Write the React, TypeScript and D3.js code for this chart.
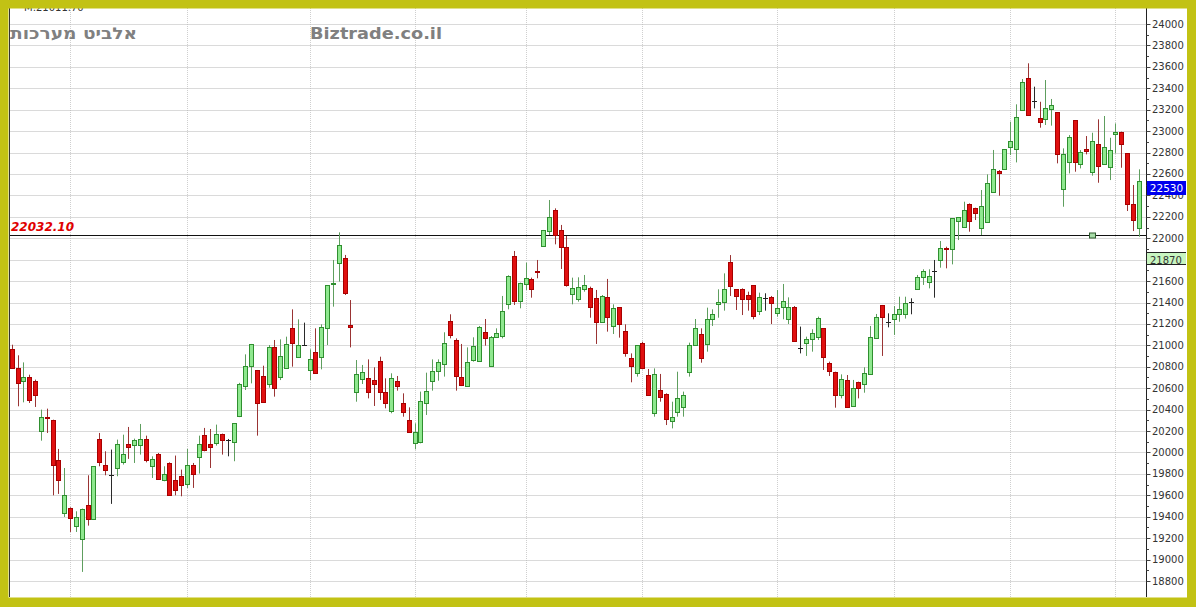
import React from "react";
import * as d3 from "d3";

// ---- data ----
const opens = [20966,20789,20664,20705,20664,20198,20331,20300,19933,19436,19482,19311,19193,19507,19380,20129,19887,19785,19855,19908,20080,20073,20073,20126,19877,19986,19747,19902,19747,19784,19709,19887,19958,20166,20080,20089,20173,20120,20095,20343,20624,20810,20770,20714,20636,20982,20708,20785,21165,20894,21003,20770,20935,20888,21159,21573,21772,21812,21190,20568,20683,20692,20676,20854,20561,20390,20667,20465,20303,20085,20095,20465,20670,20764,20826,21227,21050,20708,20624,20863,20857,21122,20807,21081,21090,21383,21834,21414,21570,21620,21697,21928,22071,22264,22077,21915,21476,21430,21523,21539,21439,21221,21455,21181,21355,21134,20885,20739,21019,20723,20365,20583,20546,20294,20375,20428,20754,21003,21103,21010,21243,21386,21402,21781,21523,21526,21470,21563,21324,21439,21448,21305,21361,21243,21361,20972,21019,21056,21075,21159,20838,20754,20537,20677,20437,20655,20639,20733,21072,21377,21221,21243,21290,21289,21401,21523,21635,21588,21694,21797,21912,21899,22161,22108,22319,22279,22092,22148,22434,22630,22643,22855,22830,23197,23493,23284,23119,23110,23203,23175,22456,22708,23103,22690,22830,22621,22876,22690,22668,22970,22995,22792,22319,22098];
const highs = [21006,20907,20841,20726,20680,20400,20409,20306,20033,19855,19488,19451,19476,19787,19871,20182,20011,20027,20120,20166,20238,20129,20266,20157,19964,19995,19871,19908,19971,19840,20033,19902,20157,20229,20219,20260,20176,20126,20275,20650,20916,21013,20770,20810,21003,21050,21056,21081,21336,21243,21212,20963,21159,21196,21563,21797,22055,21844,21423,20863,20817,20869,20795,20894,20692,20739,20714,20552,20421,20272,20568,20745,20869,20869,21122,21290,21065,21013,20981,21075,21181,21246,21087,21159,21461,21654,21881,21585,21772,21632,21797,22077,22357,22279,22124,22021,21632,21635,21657,21548,21517,21470,21620,21383,21355,21196,20925,21003,21034,20779,20785,20733,20552,20474,20754,20568,21025,21246,21159,21352,21336,21523,21672,21843,21523,21532,21501,21563,21492,21486,21461,21517,21573,21448,21367,21175,21081,21150,21268,21159,20848,20754,20729,20723,20677,20661,20795,21181,21293,21377,21299,21367,21454,21454,21439,21657,21710,21710,21797,21974,21921,22185,22195,22341,22325,22285,22450,22596,22824,22637,22833,23088,23250,23486,23633,23415,23274,23477,23300,23175,22839,22963,23103,22823,22954,22985,23110,23141,22938,23072,22995,22792,22497,22643];
const lows = [20780,20431,20468,20462,20425,20110,20182,19600,19613,19398,19258,19258,18885,19317,19380,19871,19787,19520,19778,19887,19940,19902,19980,19908,19762,19756,19731,19600,19600,19591,19669,19669,19803,20011,19855,20064,19980,19964,19918,20330,20583,20645,20157,20465,20605,20521,20676,20779,20801,20885,21000,20676,20733,20776,21003,21361,21595,21470,20981,20474,20639,20505,20434,20490,20412,20366,20577,20334,20188,20029,20085,20350,20577,20670,20708,21065,20577,20620,20620,20848,20857,20997,20807,21075,21065,21336,21377,21346,21517,21445,21626,21928,22030,21943,21713,21548,21383,21408,21501,21258,21013,21221,21128,21106,21072,20894,20655,20708,20776,20537,20334,20474,20256,20225,20334,20334,20708,20994,20838,20941,21181,21258,21324,21461,21330,21283,21324,21243,21283,21324,21199,21268,21243,21199,21034,20925,20901,20941,21050,20770,20714,20418,20505,20418,20437,20505,20558,20733,21072,20901,21168,21097,21220,21250,21290,21517,21564,21532,21445,21725,21719,21756,21983,22108,22061,22170,22030,22148,22434,22397,22643,22777,22708,23197,23150,23212,23032,23057,23051,22699,22294,22605,22621,22652,22783,22584,22518,22690,22543,22792,22658,22254,22067,22014];
const closes = [20789,20649,20705,20487,20534,20331,20322,19884,19747,19600,19386,19398,19473,19380,19871,19908,19834,19785,20080,19986,20051,20120,20126,19933,19940,19756,19800,19600,19653,19694,19887,19803,20080,20027,20051,20173,20120,20120,20275,20639,20810,21010,20465,20474,20982,20599,20901,21013,21019,21003,21003,20869,20739,21174,21563,21585,21937,21492,21175,20733,20748,20561,20636,20568,20459,20692,20624,20381,20194,20188,20480,20577,20764,20848,21019,21097,20717,20630,20841,20997,21174,21065,21081,21112,21324,21647,21417,21585,21632,21529,21685,22077,22195,22030,21915,21560,21539,21548,21560,21355,21221,21461,21262,21352,21199,20925,20810,21003,20785,20537,20733,20521,20309,20328,20505,20537,21003,21165,20879,21243,21290,21405,21523,21554,21464,21430,21430,21274,21448,21439,21392,21352,21414,21361,21041,20972,21056,21112,21258,20894,20764,20537,20683,20428,20599,20599,20739,21075,21268,21268,21221,21293,21340,21392,21401,21635,21697,21647,21694,21905,21900,22185,22195,22263,22164,22238,22304,22512,22643,22612,22833,22908,23135,23455,23150,23284,23082,23219,23243,22789,22783,22948,22714,22802,22817,22907,22677,22848,22823,22995,22876,22319,22170,22530];

const yTickValues = [18800,19000,19200,19400,19600,19800,20000,20200,20400,20600,20800,21000,21200,21400,21600,21800,22000,22200,22400,22600,22800,23000,23200,23400,23600,23800,24000];
const yMinorValues = [18900,19100,19300,19500,19700,19900,20100,20300,20500,20700,20900,21100,21300,21500,21700,21900,22100,22300,22500,22700,22900,23100,23300,23500,23700,23900];
const periodStartIndex = [10, 30, 51, 69, 88, 108, 131, 151, 171, 189];

const refLineValue = 22032.1;
const refLineLabel = "22032.10";
const refLineAnchorIndex = 185;
const lastPriceValue = 22530;
const lastPriceLabel = "22530";
const secondPriceValue = 21870;
const secondPriceLabel = "21870";

const titleHeb = "אלביט מערכות";
const titleSite = "Biztrade.co.il";
const topHiddenText = "M:21011.70";

const W = 1196;
const H = 607;
const FRAME = "#c2c214";

export default function App() {
  const n = opens.length;
  const x = d3.scaleLinear().domain([0, n - 1]).range([11.7, 1138.8]);
  const y = d3.scaleLinear().domain([18800, 24000]).range([581, 24]);

  const plotL = 9.5;
  const plotR = 1146.5;
  const plotT = 8;
  const plotB = 597;

  const snap = (v: number) => Math.round(v) + 0.5;

  const candles = opens.map((o, i) => {
    const c = closes[i];
    const h = highs[i];
    const l = lows[i];
    const cx = Math.round(x(i));
    const up = c >= o;
    const flat = o === c;
    const top = Math.round(y(Math.max(o, c)));
    const bot = Math.round(y(Math.min(o, c)));
    const wickColor = flat ? "#2a2a2a" : up ? "#5e9e5e" : "#9a3434";
    return (
      <g key={i}>
        <line x1={cx + 0.5} x2={cx + 0.5} y1={y(h)} y2={y(l)} stroke={wickColor} strokeWidth={1} />
        {flat ? (
          <line x1={cx - 2} x2={cx + 3} y1={snap(y(o))} y2={snap(y(o))} stroke="#222" strokeWidth={1} />
        ) : (
          <rect
            x={cx - 1.5}
            y={top + 0.5}
            width={4}
            height={Math.max(bot - top, 1)}
            fill={up ? "#8fe88f" : "#e01010"}
            stroke={up ? "#2f8f2f" : "#a80000"}
            strokeWidth={1}
          />
        )}
      </g>
    );
  });

  const refY = snap(y(refLineValue));
  const lastY = Math.round(y(lastPriceValue));
  const secY = Math.round(y(secondPriceValue));

  return (
    <svg
      width={W}
      height={H}
      style={{ position: "absolute", left: 0, top: 0, display: "block", background: "#fff" }}
      fontFamily="DejaVu Sans, Verdana, sans-serif"
    >
      <defs>
        <clipPath id="plotClip">
          <rect x={plotL} y={plotT} width={plotR - plotL} height={plotB - plotT} />
        </clipPath>
        <clipPath id="secClip">
          <rect x={1147} y={secY} width={39} height={12} />
        </clipPath>
      </defs>
      <rect x={0} y={0} width={W} height={H} fill="#fff" />

      <g clipPath="url(#plotClip)">
        {/* vertical grid */}
        {periodStartIndex.map((idx) => (
          <line
            key={"v" + idx}
            x1={Math.round(x(idx)) + 0.5}
            x2={Math.round(x(idx)) + 0.5}
            y1={plotT}
            y2={plotB}
            stroke="#cfcfcf"
            strokeDasharray="1,1"
          />
        ))}
        {/* horizontal grid */}
        {yTickValues.map((v) => (
          <line
            key={"h" + v}
            x1={plotL}
            x2={plotR}
            y1={snap(y(v))}
            y2={snap(y(v))}
            stroke="#b4b4b4"
            strokeDasharray="1,1"
          />
        ))}

        <text x={24} y={11} fontSize={10} fill="#333">{topHiddenText}</text>

        <text x={10} y={39} fontSize={16} fontWeight="bold" fill="#808080" textLength={127} lengthAdjust="spacingAndGlyphs">
          {titleHeb}
        </text>
        <text x={310} y={39} fontSize={16} fontWeight="bold" fill="#808080" textLength={132} lengthAdjust="spacingAndGlyphs">
          {titleSite}
        </text>

        {/* reference line */}
        <line x1={plotL} x2={plotR} y1={refY} y2={refY} stroke="#111" strokeWidth={1} />
        <text x={11} y={231} fontSize={12} fontStyle="italic" fontWeight="bold" fill="#e00000">
          {refLineLabel}
        </text>

        {candles}

        <rect
          x={Math.round(x(refLineAnchorIndex)) - 2.5}
          y={refY - 2.5}
          width={6}
          height={5}
          fill="#a8dca8"
          stroke="#2d5a2d"
          strokeWidth={1}
        />
      </g>

      {/* left border line */}
      <line x1={plotL} x2={plotL} y1={plotT} y2={plotB} stroke="#333" />

      {/* right axis */}
      <line x1={plotR} x2={plotR} y1={plotT} y2={plotB} stroke="#222" />
      {yMinorValues.map((v) => (
        <line key={"m" + v} x1={plotR} x2={plotR + 2.5} y1={snap(y(v))} y2={snap(y(v))} stroke="#444" />
      ))}
      {yTickValues.map((v) => (
        <g key={"t" + v}>
          <line x1={plotR} x2={plotR + 4} y1={snap(y(v))} y2={snap(y(v))} stroke="#444" />
          <text x={1152} y={y(v)} dy="0.35em" fontSize={10} fill="#333">
            {v}
          </text>
        </g>
      ))}

      {/* second price box (partially clipped text) */}
      <rect x={1147} y={secY} width={39} height={12} fill="#c8f5c0" />
      <line x1={1147} x2={1186} y1={secY + 0.5} y2={secY + 0.5} stroke="#222" />
      <g clipPath="url(#secClip)">
        <text x={1150} y={secY + 12} fontSize={10} fill="#333">{secondPriceLabel}</text>
      </g>
      <line x1={1147} x2={1186} y1={secY + 12.5} y2={secY + 12.5} stroke="#222" />

      {/* last price box */}
      <rect x={1147} y={lastY} width={39} height={14} fill="#0000ee" />
      <text x={1166.5} y={lastY + 7} dy="0.35em" fontSize={10.5} fill="#fff" textAnchor="middle">
        {lastPriceLabel}
      </text>

      {/* frame */}
      <rect x={0} y={0} width={W} height={8.5} fill={FRAME} />
      <rect x={0} y={0} width={8.5} height={H} fill={FRAME} />
      <rect x={1187} y={0} width={W - 1187} height={H} fill={FRAME} />
      <rect x={0} y={597.5} width={W} height={H - 597.5} fill={FRAME} />
    </svg>
  );
}
